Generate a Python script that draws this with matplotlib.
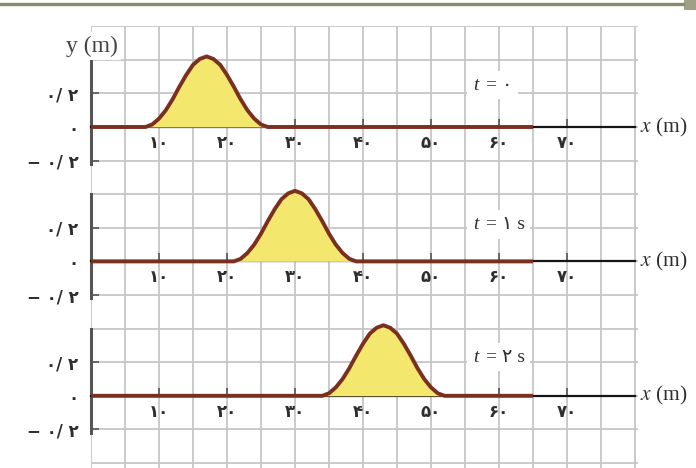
import matplotlib
matplotlib.use("Agg")
import matplotlib.pyplot as plt
import matplotlib.ticker as mticker
from matplotlib.lines import Line2D
from matplotlib.patches import Rectangle
from matplotlib.transforms import offset_copy
import numpy as np

plt.rcParams["mathtext.fontset"] = "stix"

# Data
pulse_offsets = [-9, -8, -7, -6, -5, -4, -3, -2, -1, 0, 1, 2, 3, 4, 5, 6, 7, 8, 9]  # m, relative to peak
pulse_heights = [0.0, 0.015, 0.05, 0.10, 0.165, 0.24, 0.31, 0.37, 0.405, 0.42,
                 0.405, 0.37, 0.31, 0.24, 0.165, 0.10, 0.05, 0.015, 0.0]        # m
pulse_centers = [17, 30, 43]          # peak position at each time (m)
time_labels = ["= ۰", "= ۱ s", "= ۲ s"]
string_start, string_end = 0, 65      # drawn string (m)
x_ticks = [10, 20, 30, 40, 50, 60, 70]
x_tick_labels = ["۱۰", "۲۰", "۳۰", "۴۰", "۵۰", "۶۰", "۷۰"]
y_ticks = [-0.2, 0.0, 0.2]
y_tick_labels = ["− ۰/ ۲", "۰", "۰/ ۲"]

W, H = 696, 468
fig = plt.figure(figsize=(W / 100, H / 100), dpi=100)
fig.patch.set_facecolor("white")

# pixel layout
x0_px, px_per_m = 91, 6.8
px_per_ym = 168
xmax = 80.4
panel_ylims = [(-0.4, 0.6), (-0.4, 0.4), (-0.45, 0.4)]
top_px = 26.2

serif = ["Liberation Serif", "DejaVu Sans"]
txt_col = "#2e2e2e"
grid_col = "#c6c6c6"
line_col = "#7a2f1f"
fill_col = "#f4e76e"

axes = []
cur_top = top_px
for i, (lo, hi) in enumerate(panel_ylims):
    h_px = (hi - lo) * px_per_ym
    ax = fig.add_axes([x0_px / W, 1 - (cur_top + h_px) / H, xmax * px_per_m / W, h_px / H])
    cur_top += h_px
    ax.set_facecolor("none")
    ax.set_xlim(0, xmax)
    ax.set_ylim(lo, hi)

    # grid
    ax.xaxis.set_major_locator(mticker.FixedLocator(x_ticks))
    ax.xaxis.set_minor_locator(mticker.MultipleLocator(5))
    ax.yaxis.set_major_locator(mticker.FixedLocator(y_ticks))
    ax.yaxis.set_minor_locator(mticker.MultipleLocator(0.2))
    ax.grid(which="both", color=grid_col, lw=1.3)
    ax.set_axisbelow(True)

    # spines
    ax.spines["top"].set_visible(False)
    ax.spines["right"].set_visible(False)
    ax.spines["left"].set_bounds(-0.22, 0.4)
    ax.spines["left"].set_color("#555555")
    ax.spines["left"].set_linewidth(2.2)
    ax.spines["bottom"].set_position(("data", 0))
    ax.spines["bottom"].set_color("#151515")
    ax.spines["bottom"].set_linewidth(1.6)
    ax.spines["bottom"].set_bounds(0, 80)

    ax.set_xticklabels(x_tick_labels, fontweight="bold")
    ax.set_yticklabels(y_tick_labels, fontweight="bold")
    ax.tick_params(which="minor", length=0)
    ax.tick_params(axis="x", which="major", direction="in", length=6, width=1.2,
                   color="#555555", pad=5, labelsize=12, labelcolor=txt_col)
    ax.tick_params(axis="y", which="major", direction="in", length=6, width=1.2,
                   color="#555555", pad=9, labelsize=12, labelcolor=txt_col)

    # pulse on the string
    xs = np.concatenate([[string_start], np.array(pulse_offsets) + pulse_centers[i], [string_end]])
    ys = np.concatenate([[0.0], pulse_heights, [0.0]])
    ax.fill_between(xs, ys, 0, color=fill_col, lw=0, zorder=3, clip_on=False)
    ax.plot(xs, ys, color=line_col, lw=2.8, solid_joinstyle="round",
            solid_capstyle="butt", zorder=4, clip_on=False)

    # labels
    ax.text(80.8, 0, "$x$ (m)", fontsize=15.5, family=serif, color=txt_col,
            ha="left", va="center", clip_on=False)
    ly = [0.25, 0.22, 0.23][i]
    ax.text(56.2, ly, "t", fontsize=14, family=serif, style="italic", color=txt_col,
            ha="left", va="center", zorder=5,
            bbox=dict(boxstyle="square,pad=0.3", fc="white", ec="none"))
    tr = offset_copy(ax.transData, fig=fig, x=9, y=0, units="points")
    ax.text(56.2, ly, time_labels[i], fontsize=14, family=serif, color=txt_col,
            ha="left", va="center", transform=tr, zorder=5,
            bbox=dict(boxstyle="square,pad=0.3", fc="white", ec="none"))
    axes.append(ax)

axes[0].text(0.1, 0.48, "y (m)", fontsize=17, family=serif, color="#444444",
             ha="center", va="center", zorder=5, clip_on=False,
             bbox=dict(boxstyle="square,pad=0.15", fc="white", ec="none"))

# top border of the page
fig.add_artist(Line2D([0, 683 / W], [1 - 3.5 / H, 1 - 3.5 / H], color="#8c8c66", lw=2.4))
fig.add_artist(Rectangle((684 / W, 1 - 10 / H), 12 / W, 10 / H, color="#a0a084", lw=0))

fig.savefig("out.png", dpi=100)
